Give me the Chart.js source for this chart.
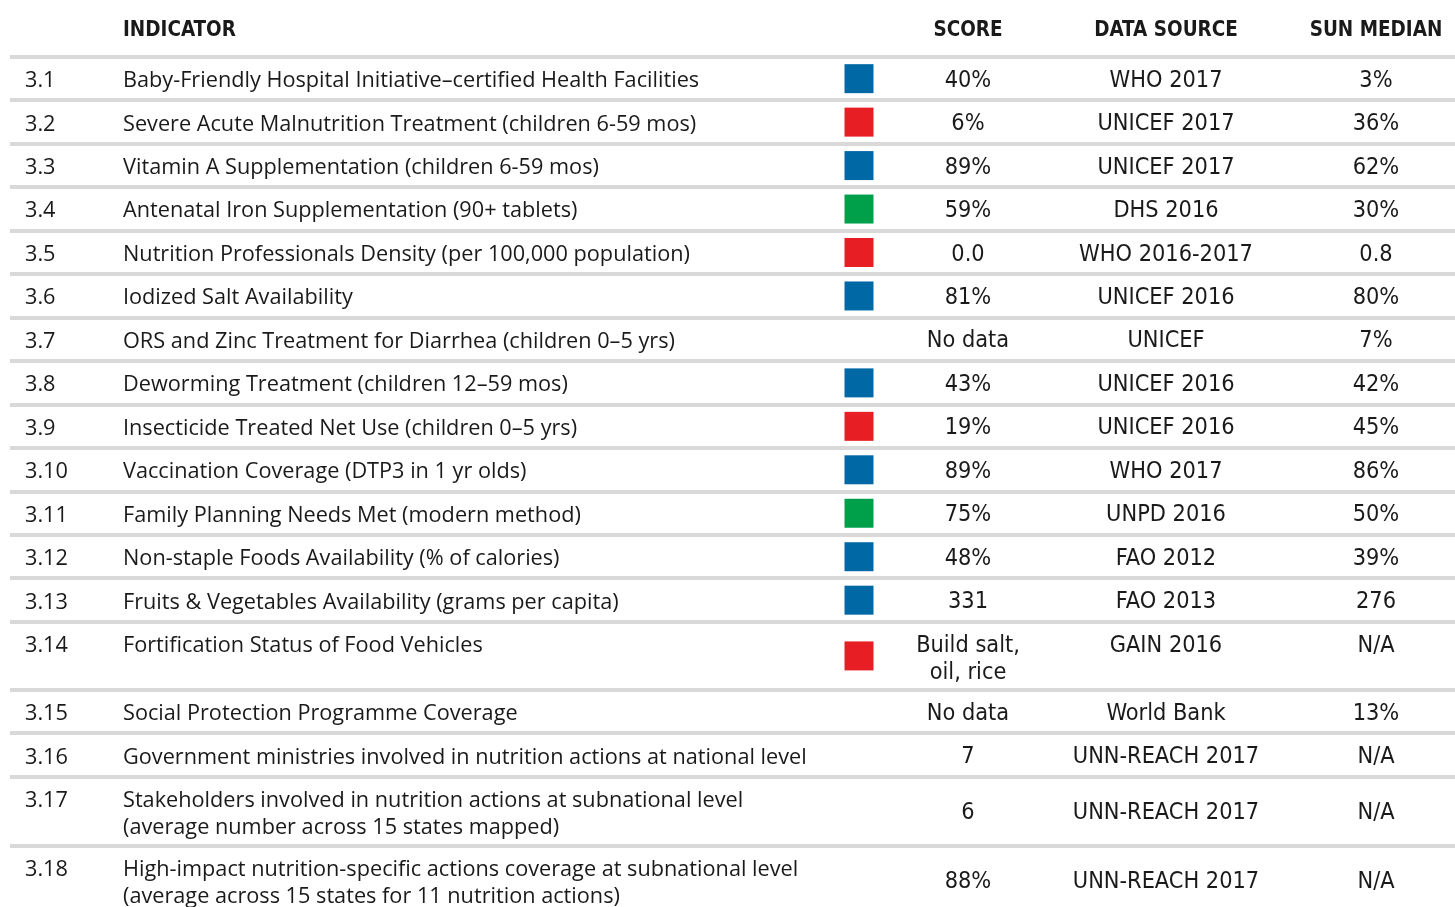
<!DOCTYPE html>
<html>
<head>
<meta charset="utf-8">
<script src="https://cdn.jsdelivr.net/npm/chart.js@4.4.1/dist/chart.umd.min.js"></script>
<style>
  html, body { margin: 0; padding: 0; background: #fff; }
  #wrap { width: 1455px; height: 907px; position: relative; }
</style>
</head>
<body>
<div id="wrap"><canvas id="tableChart"></canvas></div>
<script>
// table content
var headers = ['INDICATOR', 'SCORE', 'DATA SOURCE', 'SUN MEDIAN'];
var ids = ['3.1', '3.2', '3.3', '3.4', '3.5', '3.6', '3.7', '3.8', '3.9', '3.10',
  '3.11', '3.12', '3.13', '3.14', '3.15', '3.16', '3.17', '3.18'];
var indicators = [
  ['Baby-Friendly Hospital Initiative\u2013certified Health Facilities'],
  ['Severe Acute Malnutrition Treatment (children 6-59 mos)'],
  ['Vitamin A Supplementation (children 6-59 mos)'],
  ['Antenatal Iron Supplementation (90+ tablets)'],
  ['Nutrition Professionals Density (per 100,000 population)'],
  ['Iodized Salt Availability'],
  ['ORS and Zinc Treatment for Diarrhea (children 0\u20135 yrs)'],
  ['Deworming Treatment (children 12\u201359 mos)'],
  ['Insecticide Treated Net Use (children 0\u20135 yrs)'],
  ['Vaccination Coverage (DTP3 in 1 yr olds)'],
  ['Family Planning Needs Met (modern method)'],
  ['Non-staple Foods Availability (% of calories)'],
  ['Fruits & Vegetables Availability (grams per capita)'],
  ['Fortification Status of Food Vehicles'],
  ['Social Protection Programme Coverage'],
  ['Government ministries involved in nutrition actions at national level'],
  ['Stakeholders involved in nutrition actions at subnational level', '(average number across 15 states mapped)'],
  ['High-impact nutrition-specific actions coverage at subnational level', '(average across 15 states for 11 nutrition actions)']
];
var scores = [['40%'], ['6%'], ['89%'], ['59%'], ['0.0'], ['81%'], ['No data'], ['43%'], ['19%'], ['89%'],
  ['75%'], ['48%'], ['331'], ['Build salt,', 'oil, rice'], ['No data'], ['7'], ['6'], ['88%']];
var sources = ['WHO 2017', 'UNICEF 2017', 'UNICEF 2017', 'DHS 2016', 'WHO 2016-2017', 'UNICEF 2016', 'UNICEF',
  'UNICEF 2016', 'UNICEF 2016', 'WHO 2017', 'UNPD 2016', 'FAO 2012', 'FAO 2013', 'GAIN 2016', 'World Bank',
  'UNN-REACH 2017', 'UNN-REACH 2017', 'UNN-REACH 2017'];
var medians = ['3%', '36%', '62%', '30%', '0.8', '80%', '7%', '42%', '45%', '86%', '50%', '39%', '276', 'N/A',
  '13%', 'N/A', 'N/A', 'N/A'];
var ratings = ['blue', 'red', 'blue', 'green', 'red', 'blue', null, 'blue', 'red', 'blue', 'green', 'blue',
  'blue', 'red', null, null, null, null];

// layout (row heights in row units)
var headerSpan = 1.31;
var rowSpans = [1, 1, 1, 1, 1, 1, 1, 1, 1, 1, 1, 1, 1, 1.565, 1, 1, 1.58, 1.58];
var yMax = 20.87;
var colX = { id: 25, indicator: 123, square: 859, score: 968, source: 1166, median: 1376 };
var ratingColors = { blue: '#0068a5', red: '#e81e25', green: '#00a04b' };

var rowTops = [];
var acc = headerSpan;
rowSpans.forEach(function(s) { rowTops.push(acc); acc += s; });

var squarePoints = [], squareColors = [];
ratings.forEach(function(r, i) {
  if (!r) return;
  squarePoints.push({ x: colX.square, y: rowTops[i] + rowSpans[i] / 2 });
  squareColors.push(ratingColors[r]);
});

var bodyFont = '21.7px "Open Sans", sans-serif';
var condFont = '23.3px "DejaVu Sans Condensed", sans-serif';
var headFont = 'bold 22px "DejaVu Sans Condensed", sans-serif';

// text squeezed horizontally, to imitate a condensed face
function squeezed(ctx, text, x, y, sx, align) {
  var w = ctx.measureText(text).width * sx;
  var left = align === 'center' ? x - w / 2 : x;
  ctx.save();
  ctx.textAlign = 'left';
  ctx.translate(left, y);
  ctx.scale(sx, 1);
  ctx.fillText(text, 0, 0);
  ctx.restore();
}

var tablePlugin = {
  id: 'tableText',
  beforeDatasetsDraw: function(chart) {
    var ctx = chart.ctx, ys = chart.scales.y, xs = chart.scales.x;
    var px = function(v) { return xs.getPixelForValue(v); };
    var nudge = 2; // optical centring of the text
    ctx.save();
    // separators
    ctx.fillStyle = '#d9d9d9';
    var lines = [headerSpan].concat(rowTops.slice(1));
    lines.forEach(function(v) {
      var y = Math.round(ys.getPixelForValue(v));
      ctx.fillRect(px(10), y - 2, px(1455) - px(10), 4);
    });
    // header
    ctx.fillStyle = '#1a1a1a';
    ctx.textBaseline = 'middle';
    var hy = ys.getPixelForValue(headerSpan / 2) + nudge;
    ctx.font = headFont;
    var hs = 0.93;
    squeezed(ctx, headers[0], px(colX.indicator), hy, hs, 'left');
    squeezed(ctx, headers[1], px(colX.score), hy, hs, 'center');
    squeezed(ctx, headers[2], px(colX.source), hy, hs, 'center');
    squeezed(ctx, headers[3], px(colX.median), hy, hs, 'center');
    // rows
    var lineH = 27;
    ids.forEach(function(id, i) {
      var top = ys.getPixelForValue(rowTops[i]);
      var mid = ys.getPixelForValue(rowTops[i] + rowSpans[i] / 2) + nudge;
      var first = top + 22 + nudge;
      ctx.font = bodyFont;
      ctx.textAlign = 'left';
      ctx.fillText(id, px(colX.id), first);
      indicators[i].forEach(function(t, k) { ctx.fillText(t, px(colX.indicator), first + k * lineH); });
      var topAlign = scores[i].length > 1;
      var vy = topAlign ? first : mid;
      ctx.font = condFont;
      ctx.textAlign = 'center';
      scores[i].forEach(function(t, k) { ctx.fillText(t, px(colX.score), vy + k * lineH); });
      ctx.fillText(sources[i], px(colX.source), vy);
      ctx.fillText(medians[i], px(colX.median), vy);
    });
    ctx.restore();
  }
};

new Chart(document.getElementById('tableChart').getContext('2d'), {
  type: 'scatter',
  data: {
    datasets: [{
      data: squarePoints,
      pointStyle: 'rect',
      pointRadius: 20.5,
      pointHoverRadius: 20.5,
      backgroundColor: squareColors,
      borderWidth: 0
    }]
  },
  options: {
    responsive: true,
    maintainAspectRatio: false,
    animation: false,
    events: [],
    layout: { padding: 0, autoPadding: false },
    plugins: { legend: { display: false }, tooltip: { enabled: false } },
    scales: {
      x: { type: 'linear', min: 0, max: 1455, display: false },
      y: { type: 'linear', min: 0, max: yMax, reverse: true, display: false }
    }
  },
  plugins: [tablePlugin]
});
</script>
</body>
</html>
